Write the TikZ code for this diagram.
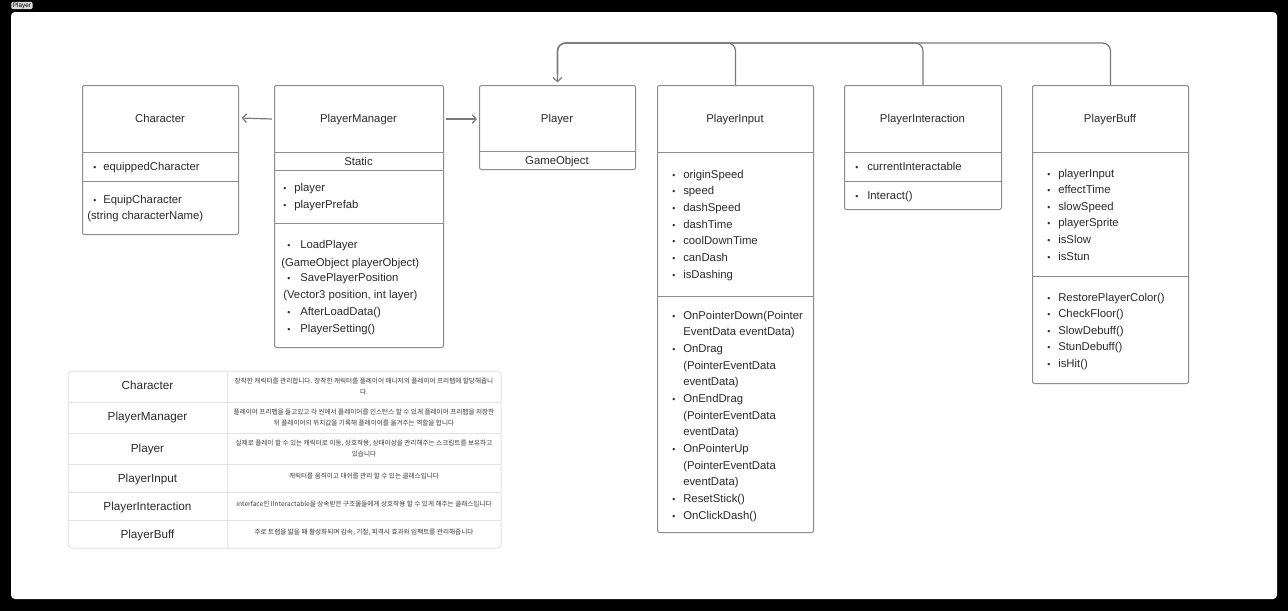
\documentclass[tikz,border=0pt]{standalone}
\usepackage{fontspec}
\setmainfont{Liberation Sans}
\newfontfamily\cjk{Noto Sans CJK KR}
\usetikzlibrary{arrows.meta}
\definecolor{boxgray}{HTML}{8C8C8C}
\definecolor{conngray}{HTML}{7A7A7A}
\definecolor{txt}{HTML}{2B2B2B}
\definecolor{tblline}{HTML}{E3E3E3}
\definecolor{ktxt}{HTML}{3A3A3A}
\begin{document}
\begin{tikzpicture}[x=0.75pt,y=-0.75pt,
  cls/.style={draw=boxgray,line width=0.75pt,rounded corners=1.5pt,anchor=north west,inner sep=0pt},
  sep/.style={draw=boxgray,line width=0.75pt},
  title/.style={anchor=base,inner sep=0pt,text=txt,font=\fontsize{8.5}{12.5}\selectfont},
  item/.style={anchor=base west,inner sep=0pt,text=txt,font=\fontsize{8.5}{12.5}\selectfont},
  bul/.style={anchor=base,inner sep=0pt,text=txt,font=\fontsize{6.5}{12.5}\selectfont},
  conn/.style={draw=conngray,line width=0.9pt},
  tip/.style={-{Straight Barb[length=3pt,width=6.5pt]}},
  tname/.style={anchor=base,inner sep=0pt,text=txt,font=\fontsize{8.8}{12}\selectfont},
  tdesc/.style={anchor=center,inner sep=0pt,align=center,text=ktxt,font=\cjk\fontsize{4.95}{8.3}\selectfont}
]
\useasboundingbox (0,0) rectangle (1288,611);
\fill[black] (0,0) rectangle (1288,611);
\fill[white,rounded corners=3pt] (11,12) rectangle (1277,599);
\node[fill=black!15,rounded corners=1pt,inner xsep=1.2pt,inner ysep=0.5pt,anchor=west,font=\fontsize{4.8}{5.5}\selectfont] (tag) at (11,5.5) {Player};

% ---------- Character
\node[cls,minimum width=117pt,minimum height=111.75pt] (char) at (82,85) {};
\draw[sep] (82,152) -- (238,152);
\draw[sep] (82,181) -- (238,181);
\node[title] (charT) at (160,122) {Character};
\node[bul] at (95,170) {•};
\node[item] at (103,170) {equippedCharacter};
\node[bul] at (95,203) {•};
\node[item] at (103,203) {EquipCharacter};
\node[item] at (87,219) {(string characterName)};

% ---------- PlayerManager
\node[cls,minimum width=126.75pt,minimum height=196.5pt] (pm) at (274,85) {};
\draw[sep] (274,152) -- (443,152);
\draw[sep] (274,170) -- (443,170);
\draw[sep] (274,223) -- (443,223);
\node[title] (pmT) at (358.5,122) {PlayerManager};
\node[title] at (358.5,165) {Static};
\node[bul] at (285,191) {•};
\node[item] at (294,191) {player};
\node[bul] at (285,208) {•};
\node[item] at (294,208) {playerPrefab};
\node[bul] at (289,248) {•};
\node[item] at (300,248) {LoadPlayer};
\node[item] at (281,266) {(GameObject playerObject)};
\node[bul] at (289,281) {•};
\node[item] at (300,281) {SavePlayerPosition};
\node[item] at (283,298) {(Vector3 position, int layer)};
\node[bul] at (289,315) {•};
\node[item] at (300,315) {AfterLoadData()};
\node[bul] at (289,332) {•};
\node[item] at (300,332) {PlayerSetting()};

% ---------- Player
\node[cls,minimum width=117pt,minimum height=63pt] (pl) at (479,85) {};
\draw[sep] (479,151) -- (635,151);
\node[title] (plT) at (557,122) {Player};
\node[title] at (557,164) {GameObject};

% ---------- PlayerInput
\node[cls,minimum width=117pt,minimum height=335.25pt] (pin) at (657,85) {};
\draw[sep] (657,152) -- (813,152);
\draw[sep] (657,296) -- (813,296);
\node[title] (pinT) at (735,122) {PlayerInput};
\foreach \k/\t in {0/originSpeed,1/speed,2/dashSpeed,3/dashTime,4/coolDownTime,5/canDash,6/isDashing}{
  \node[bul] at (674,178+16.67*\k) {•};
  \node[item] at (683,178+16.67*\k) {\t};
}
\foreach \k/\t/\b in {0/{OnPointerDown(Pointer}/1,1/{EventData eventData)}/0,2/{OnDrag}/1,3/{(PointerEventData}/0,4/{eventData)}/0,5/{OnEndDrag}/1,6/{(PointerEventData}/0,7/{eventData)}/0,8/{OnPointerUp}/1,9/{(PointerEventData}/0,10/{eventData)}/0,11/{ResetStick()}/1,12/{OnClickDash()}/1}{
  \ifnum\b=1 \node[bul] at (674,319+16.67*\k) {•};\fi
  \node[item] at (683,319+16.67*\k) {\t};
}

% ---------- PlayerInteraction
\node[cls,minimum width=117.75pt,minimum height=93pt] (pint) at (844,85) {};
\draw[sep] (844,152) -- (1001,152);
\draw[sep] (844,181) -- (1001,181);
\node[title] (pintT) at (922.5,122) {PlayerInteraction};
\node[bul] at (857,170) {•};
\node[item] at (867,170) {currentInteractable};
\node[bul] at (857,199) {•};
\node[item] at (867,199) {Interact()};

% ---------- PlayerBuff
\node[cls,minimum width=117pt,minimum height=223.5pt] (pbuf) at (1032,85) {};
\draw[sep] (1032,152) -- (1188,152);
\draw[sep] (1032,276) -- (1188,276);
\node[title] (pbufT) at (1110,122) {PlayerBuff};
\foreach \k/\t in {0/playerInput,1/effectTime,2/slowSpeed,3/playerSprite,4/isSlow,5/isStun}{
  \node[bul] at (1049,177+16.6*\k) {•};
  \node[item] at (1058,177+16.6*\k) {\t};
}
\foreach \k/\t in {0/RestorePlayerColor(),1/CheckFloor(),2/SlowDebuff(),3/StunDebuff(),4/isHit()}{
  \node[bul] at (1049,301+16.6*\k) {•};
  \node[item] at (1058,301+16.6*\k) {\t};
}

% ---------- connectors
\coordinate (topline) at (0,43);
\draw[conn,tip,shorten <=1.5pt,shorten >=2pt] (pm.west |- pmT) -- (char.east |- charT);
\draw[conn,tip,shorten <=1.5pt,shorten >=1.5pt] (pm.east |- pmT) -- (pl.west |- plT);
\draw[conn,tip,rounded corners=6pt,shorten >=2pt] (pbuf.north) -- (pbuf.north |- topline) -- (pl.north |- topline) -- (pl.north);
\draw[conn,rounded corners=6pt] (pint.north) -- (pint.north |- topline) -- (pl.north |- topline) -- ([yshift=8pt]pl.north);
\draw[conn,rounded corners=6pt] (pin.north) -- (pin.north |- topline) -- (pl.north |- topline) -- ([yshift=8pt]pl.north);

% ---------- table
\draw[tblline,line width=0.75pt,rounded corners=3pt] (68,371) rectangle (501,548);
\foreach \yy in {402,433,464,492,520}{\draw[tblline,line width=0.75pt] (68,\yy) -- (501,\yy);}
\draw[tblline,line width=0.75pt] (227,371) -- (227,548);
\node[tname] (t1) at (147.5,389.5) {Character};
\node[tname] (t2) at (147.5,420.5) {PlayerManager};
\node[tname] (t3) at (147.5,452) {Player};
\node[tname] (t4) at (147.5,482) {PlayerInput};
\node[tname] (t5) at (147.5,510) {PlayerInteraction};
\node[tname] (t6) at (147.5,538) {PlayerBuff};
\node[tdesc] (d1) at (364,386.5) {장착한 캐릭터를 관리합니다. 장착한 캐릭터를 플레이어 매니저의 플레이어 프리펩에 할당해줍니\\다.};
\node[tdesc] (d2) at (364,417.5) {플레이어 프리펩을 들고있고 각 씬에서 플레이어를 인스턴스 할 수 있게 플레이어 프리펩을 저장한\\뒤 플레이어의 위치값을 기록해 플레이어를 옮겨주는 역할을 합니다};
\node[tdesc] (d3) at (364,448.5) {실제로 플레이 할 수 있는 캐릭터로 이동, 상호작용, 상태이상을 관리해주는 스크립트를 보유하고\\있습니다};
\node[tdesc] (d4) at (364,476) {캐릭터를 움직이고 대쉬를 관리 할 수 있는 클래스입니다};
\node[tdesc] (d5) at (364,504) {interface인 IInteractable을 상속받은 구조물들에게 상호작용 할 수 있게 해주는 클래스입니다};
\node[tdesc] (d6) at (364,532) {주로 트랩을 밟을 때 활성화되며 감속, 기절, 피격시 효과와 임팩트를 관리해줍니다};
\end{tikzpicture}
\end{document}
